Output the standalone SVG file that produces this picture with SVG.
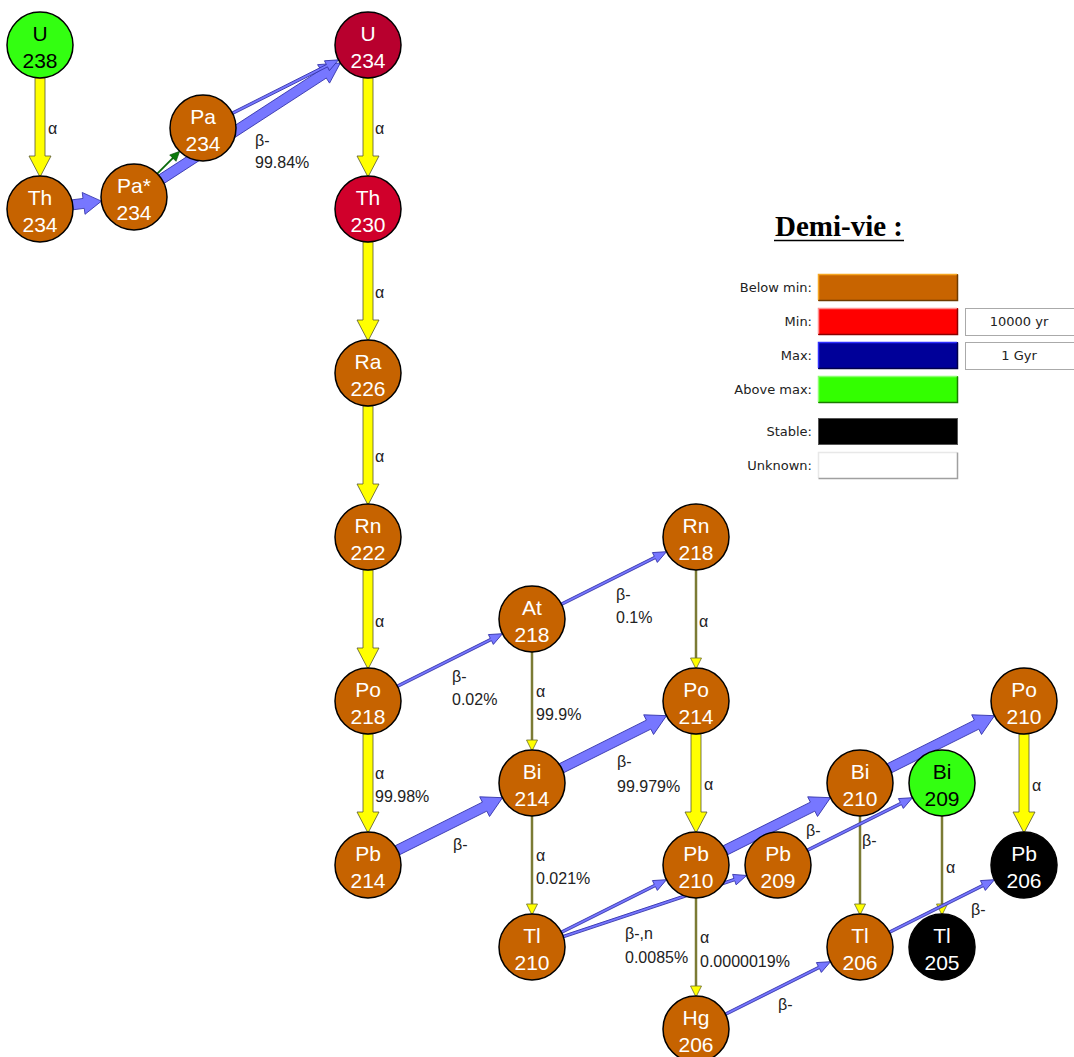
<svg xmlns="http://www.w3.org/2000/svg" width="1074" height="1057" viewBox="0 0 1074 1057">
<style>
.node circle{stroke:#000;stroke-width:1.5}
.br{fill:#C66300}
.gr{fill:#33FF11}
.bk{fill:#000}
.nt{font-family:"Liberation Sans",Arial,sans-serif;font-size:21px;text-anchor:middle;fill:#fff}
.nt.d{fill:#000}
.lbl{font-family:"Liberation Sans",Arial,sans-serif;font-size:16px;fill:#222}
.ya{fill:#FFFF00;stroke:#555530;stroke-width:0.8}
.ba{fill:#7777FF;stroke:#3333AA;stroke-width:0.8}
.tyl{stroke:#7B7B35;stroke-width:2.5}
.tyh{fill:#FFFF00;stroke:#6B6B2A;stroke-width:0.8}
.lg{font-family:"DejaVu Sans",Verdana,sans-serif;font-size:13px;fill:#222;text-anchor:end}
.lv{font-family:"DejaVu Sans",Verdana,sans-serif;font-size:13px;fill:#222;text-anchor:middle}
</style>
<defs>
<path id="tb117" class="ba" d="M0,-5 H97.4 V-11 L117.4,0 L97.4,11 V5 H0 Z"/>
<path id="tn117" class="ba" d="M0,-1.3 H104.4 V-5.5 L117.4,0 L104.4,5.5 V1.3 H0 Z"/>
</defs>
<rect width="1074" height="1057" fill="#fff"/>

<g id="connectors">
  <path id="c-U238-Th234" class="ya" d="M35,78 V156 H29 L40,177 L51,156 H45 V78 Z"/>
  <path id="c-U234-Th230" class="ya" d="M363,78 V156 H357 L368,177 L379,156 H373 V78 Z"/>
  <path id="c-Th230-Ra226" class="ya" d="M363,242 V320 H357 L368,341 L379,320 H373 V242 Z"/>
  <path id="c-Ra226-Rn222" class="ya" d="M363,406 V484 H357 L368,505 L379,484 H373 V406 Z"/>
  <path id="c-Rn222-Po218" class="ya" d="M363,570 V648 H357 L368,669 L379,648 H373 V570 Z"/>
  <path id="c-Po218-Pb214" class="ya" d="M363,734 V812 H357 L368,833 L379,812 H373 V734 Z"/>
  <path id="c-Po214-Pb210" class="ya" d="M691,734 V812 H685 L696,833 L707,812 H701 V734 Z"/>
  <path id="c-Po210-Pb206" class="ya" d="M1019,734 V812 H1013 L1024,833 L1035,812 H1029 V734 Z"/>
  <g id="c-At218-Bi214"><line class="tyl" x1="532" y1="652" x2="532" y2="742"/><path class="tyh" d="M526.5,740 L532,751 L537.5,740 Z"/></g>
  <g id="c-Rn218-Po214"><line class="tyl" x1="696" y1="570" x2="696" y2="660"/><path class="tyh" d="M690.5,658 L696,669 L701.5,658 Z"/></g>
  <g id="c-Bi214-Tl210"><line class="tyl" x1="532" y1="816" x2="532" y2="906"/><path class="tyh" d="M526.5,904 L532,915 L537.5,904 Z"/></g>
  <g id="c-Pb210-Hg206"><line class="tyl" x1="696" y1="898" x2="696" y2="988"/><path class="tyh" d="M690.5,986 L696,997 L701.5,986 Z"/></g>
  <g id="c-Bi210-Tl206"><line class="tyl" x1="860" y1="816" x2="860" y2="906"/><path class="tyh" d="M854.5,904 L860,915 L865.5,904 Z"/></g>
  <g id="c-Bi209-Tl205"><line class="tyl" x1="942" y1="816" x2="942" y2="906"/><path class="tyh" d="M936.5,904 L942,915 L947.5,904 Z"/></g>
  <path id="c-Th234-Pa234m" class="ba" d="M0,-5 H11 V-11 L29,0 L11,11 V5 H0 Z" transform="translate(72.7,204.8) rotate(-7.27)"/>
  <path id="c-Pa234m-U234" class="ba" d="M0,-5 H193 V-11 L213,0 L193,11 V5 H0 Z" transform="translate(161.7,179) rotate(-33)"/>
  <use id="c-Pb214-Bi214" href="#tb117" transform="translate(397.5,850.2) rotate(-26.565)"/>
  <use id="c-Bi214-Po214" href="#tb117" transform="translate(561.5,768.2) rotate(-26.565)"/>
  <use id="c-Pb210-Bi210" href="#tb117" transform="translate(725.5,850.2) rotate(-26.565)"/>
  <use id="c-Bi210-Po210" href="#tb117" transform="translate(889.5,768.2) rotate(-26.565)"/>
  <path id="c-Pa234-U234" class="ba" d="M0,-1.3 H105.7 V-5.5 L118.7,0 L105.7,5.5 V1.3 H0 Z" transform="translate(232.5,113.2) rotate(-26.7)"/>
  <use id="c-Po218-At218" href="#tn117" transform="translate(397.5,686.2) rotate(-26.565)"/>
  <use id="c-At218-Rn218" href="#tn117" transform="translate(561.5,604.2) rotate(-26.565)"/>
  <use id="c-Tl210-Pb210" href="#tn117" transform="translate(561.5,932.2) rotate(-26.565)"/>
  <path id="c-Tl210-Pb209" class="ba" d="M0,-1.3 H180.3 V-5.5 L193.3,0 L180.3,5.5 V1.3 H0 Z" transform="translate(563.3,936.6) rotate(-18.43)"/>
  <use id="c-Pb209-Bi209" href="#tn117" transform="translate(807.5,850.2) rotate(-26.565)"/>
  <use id="c-Hg206-Tl206" href="#tn117" transform="translate(725.5,1014.2) rotate(-26.565)"/>
  <use id="c-Tl206-Pb206" href="#tn117" transform="translate(889.5,932.2) rotate(-26.565)"/>
  <g id="c-Pa234m-Pa234" transform="translate(157.3,173.7) rotate(-45)">
    <line x1="0" y1="0" x2="24" y2="0" stroke="#0A6A0A" stroke-width="1.8"/>
    <path d="M22,-4.5 L31.6,0 L22,4.5 Z" fill="#0A7A0A" stroke="#064A06" stroke-width="0.6"/>
  </g>
</g>

<g id="labels">
  <text class="lbl" x="48" y="134">α</text>
  <text class="lbl" x="255" y="146">β-</text><text class="lbl" x="255" y="168">99.84%</text>
  <text class="lbl" x="375" y="134">α</text>
  <text class="lbl" x="375" y="298">α</text>
  <text class="lbl" x="375" y="462">α</text>
  <text class="lbl" x="375" y="627">α</text>
  <text class="lbl" x="452" y="682">β-</text><text class="lbl" x="452" y="705">0.02%</text>
  <text class="lbl" x="616" y="600">β-</text><text class="lbl" x="616" y="623">0.1%</text>
  <text class="lbl" x="699" y="627">α</text>
  <text class="lbl" x="536" y="697">α</text><text class="lbl" x="536" y="720">99.9%</text>
  <text class="lbl" x="375" y="779">α</text><text class="lbl" x="375" y="802">99.98%</text>
  <text class="lbl" x="617" y="767">β-</text><text class="lbl" x="617" y="792">99.979%</text>
  <text class="lbl" x="704" y="790">α</text>
  <text class="lbl" x="453" y="850">β-</text>
  <text class="lbl" x="536" y="861">α</text><text class="lbl" x="536" y="884">0.021%</text>
  <text class="lbl" x="625" y="939">β-,n</text><text class="lbl" x="625" y="963">0.0085%</text>
  <text class="lbl" x="700" y="943">α</text><text class="lbl" x="700" y="967">0.0000019%</text>
  <text class="lbl" x="778" y="1010">β-</text>
  <text class="lbl" x="806" y="836">β-</text>
  <text class="lbl" x="862" y="846">β-</text>
  <text class="lbl" x="946" y="873">α</text>
  <text class="lbl" x="1032" y="791">α</text>
  <text class="lbl" x="971" y="915">β-</text>
</g>

<g id="n-U238" class="node"><circle cx="40" cy="45" r="33" class="gr"/><text class="nt d" x="40" y="41">U</text><text class="nt d" x="40" y="68">238</text></g>
<g id="n-Th234" class="node"><circle cx="40" cy="209" r="33" class="br"/><text class="nt" x="40" y="205">Th</text><text class="nt" x="40" y="232">234</text></g>
<g id="n-Pa234m" class="node"><circle cx="134" cy="197" r="33" class="br"/><text class="nt" x="134" y="193">Pa*</text><text class="nt" x="134" y="220">234</text></g>
<g id="n-Pa234" class="node"><circle cx="203" cy="128" r="33" class="br"/><text class="nt" x="203" y="124">Pa</text><text class="nt" x="203" y="151">234</text></g>
<g id="n-U234" class="node"><circle cx="368" cy="45" r="33" fill="#B8002E"/><text class="nt" x="368" y="41">U</text><text class="nt" x="368" y="68">234</text></g>
<g id="n-Th230" class="node"><circle cx="368" cy="209" r="33" fill="#D0002B"/><text class="nt" x="368" y="205">Th</text><text class="nt" x="368" y="232">230</text></g>
<g id="n-Ra226" class="node"><circle cx="368" cy="373" r="33" class="br"/><text class="nt" x="368" y="369">Ra</text><text class="nt" x="368" y="396">226</text></g>
<g id="n-Rn222" class="node"><circle cx="368" cy="537" r="33" class="br"/><text class="nt" x="368" y="533">Rn</text><text class="nt" x="368" y="560">222</text></g>
<g id="n-Po218" class="node"><circle cx="368" cy="701" r="33" class="br"/><text class="nt" x="368" y="697">Po</text><text class="nt" x="368" y="724">218</text></g>
<g id="n-Pb214" class="node"><circle cx="368" cy="865" r="33" class="br"/><text class="nt" x="368" y="861">Pb</text><text class="nt" x="368" y="888">214</text></g>
<g id="n-At218" class="node"><circle cx="532" cy="619" r="33" class="br"/><text class="nt" x="532" y="615">At</text><text class="nt" x="532" y="642">218</text></g>
<g id="n-Bi214" class="node"><circle cx="532" cy="783" r="33" class="br"/><text class="nt" x="532" y="779">Bi</text><text class="nt" x="532" y="806">214</text></g>
<g id="n-Tl210" class="node"><circle cx="532" cy="947" r="33" class="br"/><text class="nt" x="532" y="943">Tl</text><text class="nt" x="532" y="970">210</text></g>
<g id="n-Rn218" class="node"><circle cx="696" cy="537" r="33" class="br"/><text class="nt" x="696" y="533">Rn</text><text class="nt" x="696" y="560">218</text></g>
<g id="n-Po214" class="node"><circle cx="696" cy="701" r="33" class="br"/><text class="nt" x="696" y="697">Po</text><text class="nt" x="696" y="724">214</text></g>
<g id="n-Pb210" class="node"><circle cx="696" cy="865" r="33" class="br"/><text class="nt" x="696" y="861">Pb</text><text class="nt" x="696" y="888">210</text></g>
<g id="n-Hg206" class="node"><circle cx="696" cy="1029" r="33" class="br"/><text class="nt" x="696" y="1025">Hg</text><text class="nt" x="696" y="1052">206</text></g>
<g id="n-Pb209" class="node"><circle cx="778" cy="865" r="33" class="br"/><text class="nt" x="778" y="861">Pb</text><text class="nt" x="778" y="888">209</text></g>
<g id="n-Bi210" class="node"><circle cx="860" cy="783" r="33" class="br"/><text class="nt" x="860" y="779">Bi</text><text class="nt" x="860" y="806">210</text></g>
<g id="n-Bi209" class="node"><circle cx="942" cy="783" r="33" class="gr"/><text class="nt d" x="942" y="779">Bi</text><text class="nt d" x="942" y="806">209</text></g>
<g id="n-Po210" class="node"><circle cx="1024" cy="701" r="33" class="br"/><text class="nt" x="1024" y="697">Po</text><text class="nt" x="1024" y="724">210</text></g>
<g id="n-Pb206" class="node"><circle cx="1024" cy="865" r="33" class="bk"/><text class="nt" x="1024" y="861">Pb</text><text class="nt" x="1024" y="888">206</text></g>
<g id="n-Tl206" class="node"><circle cx="860" cy="947" r="33" class="br"/><text class="nt" x="860" y="943">Tl</text><text class="nt" x="860" y="970">206</text></g>
<g id="n-Tl205" class="node"><circle cx="942" cy="947" r="33" class="bk"/><text class="nt" x="942" y="943">Tl</text><text class="nt" x="942" y="970">205</text></g>

<g id="legend">
  <text x="775" y="236" font-family="'Liberation Serif','Times New Roman',serif" font-weight="bold" font-size="29" fill="#000">Demi-vie :</text>
  <line x1="774" y1="240.5" x2="904" y2="240.5" stroke="#000" stroke-width="1.5"/>

  <text class="lg" x="812" y="292">Below min:</text>
  <rect x="818" y="274" width="140" height="27" fill="#C86400"/>
  <path d="M818.5,300 V274.5 H957" fill="none" stroke="#F5A623" stroke-width="1.5"/>
  <path d="M818.5,300.5 H957.5 V274.5" fill="none" stroke="#6E3A00" stroke-width="1.5"/>

  <text class="lg" x="812" y="326">Min:</text>
  <rect x="818" y="308" width="140" height="27" fill="#FF0000"/>
  <path d="M818.5,334 V308.5 H957" fill="none" stroke="#FF9090" stroke-width="1.5"/>
  <path d="M818.5,334.5 H957.5 V308.5" fill="none" stroke="#8A0000" stroke-width="1.5"/>
  <rect x="965.5" y="308.5" width="115" height="27" fill="#fff" stroke="#AAAAAA" stroke-width="1"/>
  <text class="lv" x="1019" y="326">10000 yr</text>

  <text class="lg" x="812" y="360">Max:</text>
  <rect x="818" y="342" width="140" height="27" fill="#000099"/>
  <path d="M818.5,368 V342.5 H957" fill="none" stroke="#2E2EFF" stroke-width="1.5"/>
  <path d="M818.5,368.5 H957.5 V342.5" fill="none" stroke="#00004A" stroke-width="1.5"/>
  <rect x="965.5" y="342.5" width="115" height="27" fill="#fff" stroke="#AAAAAA" stroke-width="1"/>
  <text class="lv" x="1019" y="360">1 Gyr</text>

  <text class="lg" x="812" y="394">Above max:</text>
  <rect x="818" y="376" width="140" height="27" fill="#33FF00"/>
  <path d="M818.5,402 V376.5 H957" fill="none" stroke="#8CFF70" stroke-width="1.5"/>
  <path d="M818.5,402.5 H957.5 V376.5" fill="none" stroke="#1A7A00" stroke-width="1.5"/>

  <text class="lg" x="812" y="436">Stable:</text>
  <rect x="818" y="418" width="140" height="27" fill="#000"/>
  <rect x="818.5" y="418.5" width="139" height="26" fill="none" stroke="#555" stroke-width="1"/>

  <text class="lg" x="812" y="470">Unknown:</text>
  <rect x="818" y="452" width="140" height="27" fill="#fff"/>
  <path d="M818.5,478 V452.5 H957" fill="none" stroke="#E8E8E8" stroke-width="1.5"/>
  <path d="M818.5,478.5 H957.5 V452.5" fill="none" stroke="#A0A0A0" stroke-width="1.5"/>
</g>
</svg>
